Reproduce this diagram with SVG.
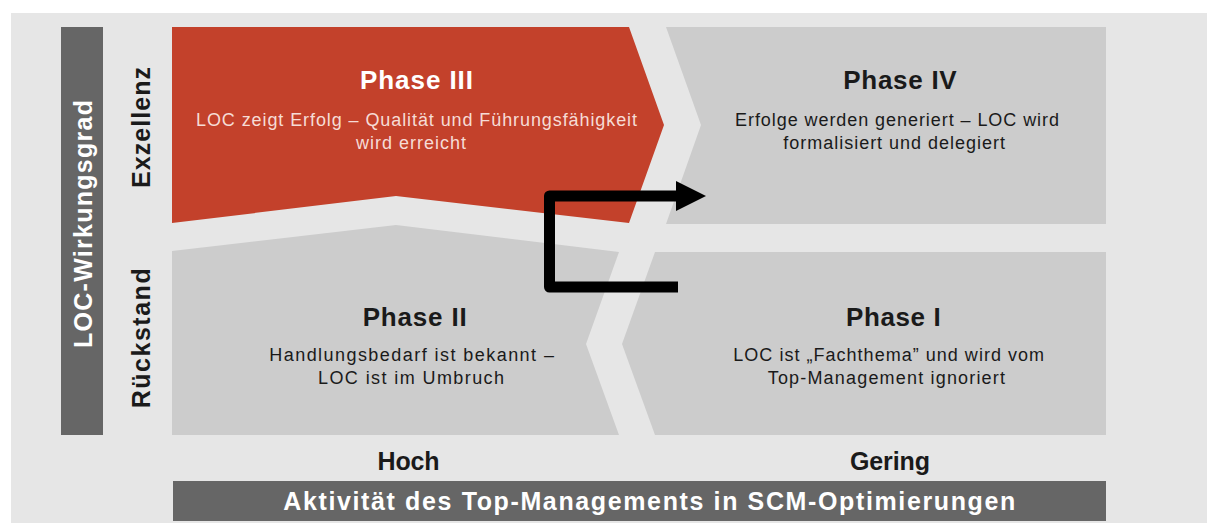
<svg xmlns="http://www.w3.org/2000/svg" width="1212" height="523" viewBox="0 0 1212 523">
<style>
text{font-family:"Liberation Sans",Arial,Helvetica,sans-serif}
.title{font-size:26px;font-weight:bold}
.body{font-size:18px}
.axis{font-size:25px;font-weight:bold}
.red{fill:#c3412b}
.gray{fill:#cccccc}
.dark{fill:#666666}
.ink{fill:#1a1a1a}
.white{fill:#ffffff}
.pale{fill:#f6dcd6}
</style>
<rect x="11" y="13" width="1196" height="510" fill="#e6e6e6"/>
<g id="axis-y">
<rect class="dark" x="61" y="27" width="42" height="408"/>
<text class="axis white" transform="translate(92,224) rotate(-90)" text-anchor="middle" textLength="248" lengthAdjust="spacing">LOC-Wirkungsgrad</text>
<text class="axis ink" transform="translate(150,127.5) rotate(-90)" text-anchor="middle" textLength="121" lengthAdjust="spacing">Exzellenz</text>
<text class="axis ink" transform="translate(150,338.3) rotate(-90)" text-anchor="middle" textLength="140" lengthAdjust="spacing">Rückstand</text>
</g>
<g id="phase3">
<polygon class="red" points="172,27 629,27 664,125 629,223 396,196 172,223"/>
<text class="title white" x="360" y="89" textLength="113" lengthAdjust="spacing">Phase III</text>
<text class="body pale" x="196" y="125.5" textLength="441" lengthAdjust="spacing">LOC zeigt Erfolg – Qualität und Führungsfähigkeit</text>
<text class="body pale" x="356" y="148.5" textLength="110" lengthAdjust="spacing">wird erreicht</text>
</g>
<g id="phase4">
<polygon class="gray" points="666,27 1106,27 1106,224 666,224 701,125"/>
<text class="title ink" x="843.3" y="89" textLength="113.4" lengthAdjust="spacing">Phase IV</text>
<text class="body ink" x="735" y="126" textLength="324" lengthAdjust="spacing">Erfolge werden generiert – LOC wird</text>
<text class="body ink" x="783.3" y="149" textLength="221.7" lengthAdjust="spacing">formalisiert und delegiert</text>
</g>
<g id="phase2">
<polygon class="gray" points="172,251 396,225 619,252 586,344 619,435 172,435"/>
<text class="title ink" x="362.7" y="326" textLength="104" lengthAdjust="spacing">Phase II</text>
<text class="body ink" x="269.3" y="361" textLength="284.7" lengthAdjust="spacing">Handlungsbedarf ist bekannt –</text>
<text class="body ink" x="318" y="383.5" textLength="186" lengthAdjust="spacing">LOC ist im Umbruch</text>
</g>
<g id="phase1">
<polygon class="gray" points="655,252 1106,252 1106,435 655,435 622,344"/>
<text class="title ink" x="846" y="326" textLength="94.7" lengthAdjust="spacing">Phase I</text>
<text class="body ink" x="733.3" y="361" textLength="310.7" lengthAdjust="spacing">LOC ist „Fachthema” und wird vom</text>
<text class="body ink" x="767.7" y="383.5" textLength="237.3" lengthAdjust="spacing">Top-Management ignoriert</text>
</g>
<g id="axis-x">
<text class="axis ink" x="408.5" y="470" text-anchor="middle" textLength="62" lengthAdjust="spacing">Hoch</text>
<text class="axis ink" x="890" y="470" text-anchor="middle" textLength="80" lengthAdjust="spacing">Gering</text>
<rect class="dark" x="173" y="481" width="933" height="40"/>
<text class="axis white" x="283.3" y="510" textLength="732" lengthAdjust="spacing">Aktivität des Top-Managements in SCM-Optimierungen</text>
</g>
<g id="connectors">
<path d="M678 287 H549.5 V196 H678" fill="none" stroke="#000" stroke-width="11" stroke-linejoin="round"/>
<polygon points="676,181 706,196 676,211" fill="#000"/>
</g>
</svg>
